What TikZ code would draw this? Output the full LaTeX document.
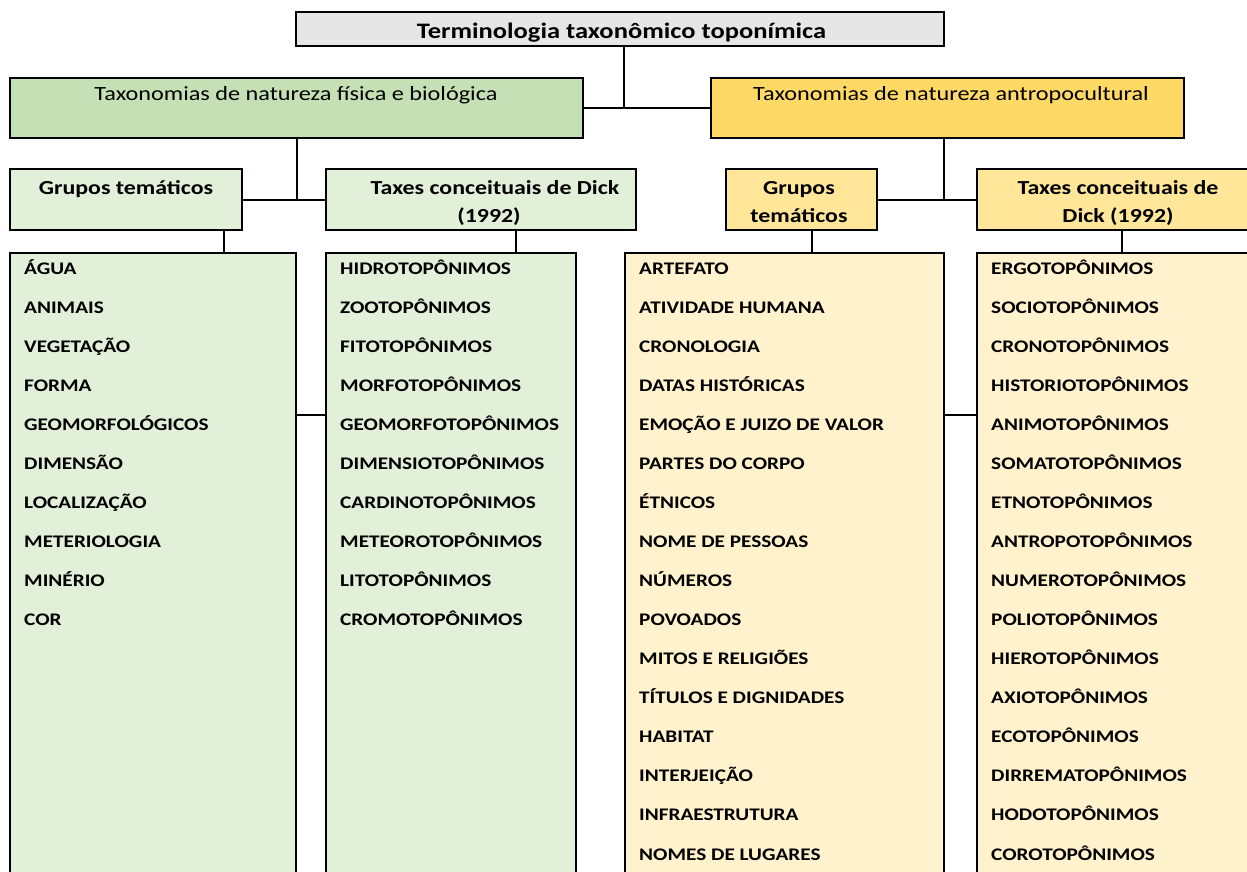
\documentclass[tikz,border=0pt]{standalone}
\usepackage{fontspec}
\setmainfont[FakeStretch=1.2]{Carlito}
\definecolor{topgray}{HTML}{E7E6E6}
\definecolor{grn}{HTML}{C5E0B4}
\definecolor{grnl}{HTML}{E2F0D9}
\definecolor{yel}{HTML}{FFD966}
\definecolor{yelm}{HTML}{FFE699}
\definecolor{yell}{HTML}{FFF2CC}
\tikzset{
  box/.style={draw=black, line width=2pt, inner sep=0pt, rectangle},
  conn/.style={draw=black, line width=2pt},
  item/.style={anchor=base west, inner sep=0pt, font=\bfseries\fontsize{17.7}{21}\selectfont},
  head/.style={anchor=base, inner sep=0pt, font=\fontsize{20.2}{24}\selectfont},
  sub/.style={anchor=base, inner sep=0pt, font=\bfseries\fontsize{19.9}{24}\selectfont, align=center},
}
\begin{document}
\begin{tikzpicture}[x=1pt,y=-1pt]
\useasboundingbox (0,0) rectangle (1247,872);
% boxes
\node[box, fill=topgray, minimum width=648pt, minimum height=34pt] (top) at (620,29) {};
\node[box, fill=grn, minimum width=573pt, minimum height=60pt] (grn) at (296.5,108) {};
\node[box, fill=yel, minimum width=473pt, minimum height=60pt] (yel) at (947.5,108) {};
\node[box, fill=grnl, minimum width=232pt, minimum height=61pt] (gtg) at (126,199.5) {};
\node[box, fill=grnl, minimum width=310pt, minimum height=61pt] (txg) at (481,199.5) {};
\node[box, fill=yelm, minimum width=151pt, minimum height=61pt] (gty) at (801.5,199.5) {};
\node[box, fill=yelm, minimum width=283pt, minimum height=61pt] (txy) at (1118.5,199.5) {};
\node[box, fill=grnl, minimum width=286pt, minimum height=637pt] (L1) at (153,571.5) {};
\node[box, fill=grnl, minimum width=250pt, minimum height=637pt] (L2) at (451,571.5) {};
\node[box, fill=yell, minimum width=319pt, minimum height=637pt] (L3) at (784.5,571.5) {};
\node[box, fill=yell, minimum width=288pt, minimum height=637pt] (L4) at (1121,571.5) {};
% connectors
\coordinate (j0) at ([xshift=4pt]top.south);
\draw[conn] (j0) -- (j0 |- grn.east);
\draw[conn] (grn.east) -- (yel.west);
\draw[conn] (grn.south) -- (grn.south |- gtg.east);
\draw[conn] (gtg.east) -- (txg.west);
\coordinate (j1) at ([xshift=-3.5pt]yel.south);
\draw[conn] (j1) -- (j1 |- gty.east);
\draw[conn] (gty.east) -- (txy.west);
\draw[conn] ([xshift=98pt]gtg.south) -- ([xshift=98pt]gtg.south |- L1.north);
\draw[conn] ([xshift=35pt]txg.south) -- ([xshift=35pt]txg.south |- L2.north);
\draw[conn] ([xshift=10.5pt]gty.south) -- ([xshift=10.5pt]gty.south |- L3.north);
\draw[conn] ([xshift=3.5pt]txy.south) -- ([xshift=3.5pt]txy.south |- L4.north);
\draw[conn] ([yshift=-163pt]L1.north east) -- ([yshift=-163pt]L2.north west);
\draw[conn] ([yshift=-163pt]L3.north east) -- ([yshift=-163pt]L4.north west);
% texts
\node[anchor=base, inner sep=0pt, font=\bfseries\fontsize{22.1}{26}\selectfont] (ttl) at (621.5,39) {Terminologia taxonômico toponímica};
\node[head] (tgrn) at (296,101) {Taxonomias de natureza física e biológica};
\node[head] (tyel) at (951,101) {Taxonomias de natureza antropocultural};
\node[sub] (tgtg) at (126,194) {Grupos temáticos};
\node[sub] (ttxg1) at (495,194) {Taxes conceituais de Dick};
\node[sub] (ttxg2) at (489,222) {(1992)};
\node[sub] (tgty1) at (799,194) {Grupos};
\node[sub] (tgty2) at (799,222) {temáticos};
\node[sub] (ttxy1) at (1118,194) {Taxes conceituais de};
\node[sub] (ttxy2) at (1118,222) {Dick (1992)};
% list items
\foreach [count=\i] \t in {ÁGUA,ANIMAIS,VEGETAÇÃO,FORMA,GEOMORFOLÓGICOS,DIMENSÃO,LOCALIZAÇÃO,METERIOLOGIA,MINÉRIO,COR}
  \node[item] (a\i) at (24,{274+39.07*(\i-1)}) {\t};
\foreach [count=\i] \t in {HIDROTOPÔNIMOS,ZOOTOPÔNIMOS,FITOTOPÔNIMOS,MORFOTOPÔNIMOS,GEOMORFOTOPÔNIMOS,DIMENSIOTOPÔNIMOS,CARDINOTOPÔNIMOS,METEOROTOPÔNIMOS,LITOTOPÔNIMOS,CROMOTOPÔNIMOS}
  \node[item] (b\i) at (340,{274+39.07*(\i-1)}) {\t};
\foreach [count=\i] \t in {ARTEFATO,ATIVIDADE HUMANA,CRONOLOGIA,DATAS HISTÓRICAS,EMOÇÃO E JUIZO DE VALOR,PARTES DO CORPO,ÉTNICOS,NOME DE PESSOAS,NÚMEROS,POVOADOS,MITOS E RELIGIÕES,TÍTULOS E DIGNIDADES,HABITAT,INTERJEIÇÃO,INFRAESTRUTURA,NOMES DE LUGARES}
  \node[item] (c\i) at (639,{274+39.07*(\i-1)}) {\t};
\foreach [count=\i] \t in {ERGOTOPÔNIMOS,SOCIOTOPÔNIMOS,CRONOTOPÔNIMOS,HISTORIOTOPÔNIMOS,ANIMOTOPÔNIMOS,SOMATOTOPÔNIMOS,ETNOTOPÔNIMOS,ANTROPOTOPÔNIMOS,NUMEROTOPÔNIMOS,POLIOTOPÔNIMOS,HIEROTOPÔNIMOS,AXIOTOPÔNIMOS,ECOTOPÔNIMOS,DIRREMATOPÔNIMOS,HODOTOPÔNIMOS,COROTOPÔNIMOS}
  \node[item] (d\i) at (991,{274+39.07*(\i-1)}) {\t};
\end{tikzpicture}
\end{document}
